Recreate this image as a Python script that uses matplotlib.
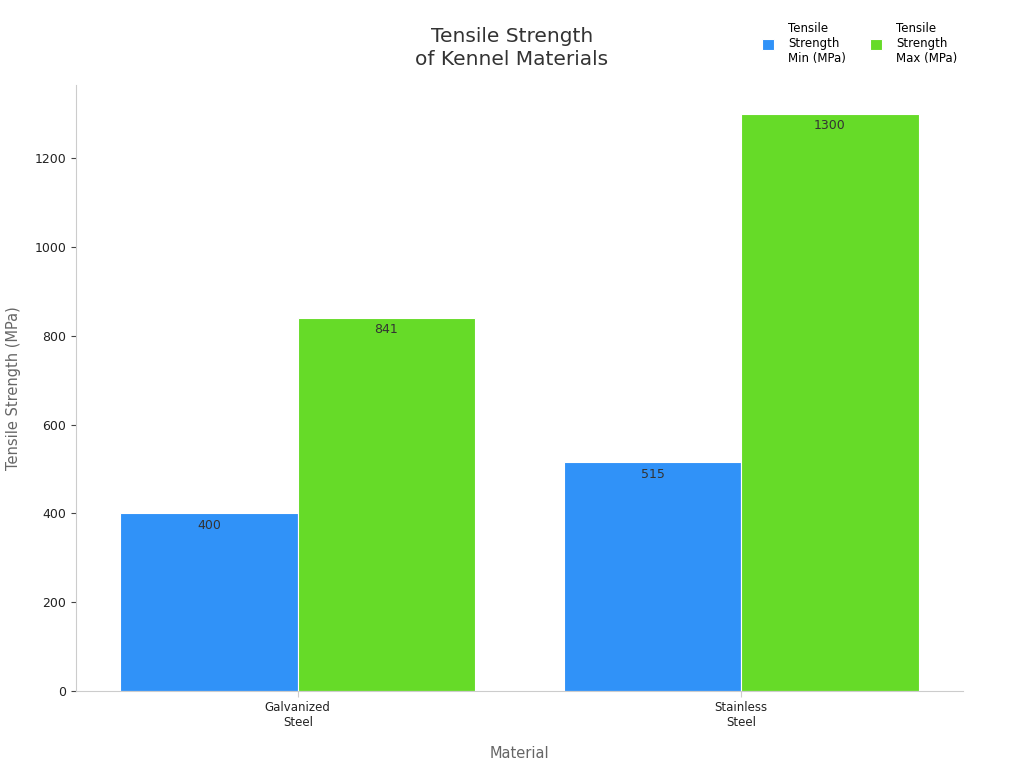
import numpy as np
import matplotlib.pyplot as plt

materials = ["Galvanized\nSteel", "Stainless\nSteel"]
ts_min = [400, 515]
ts_max = [841, 1300]
series_labels = ["Tensile\nStrength\nMin (MPa)", "Tensile\nStrength\nMax (MPa)"]
colors = ["#3092F8", "#66DB28"]

fig = plt.figure(figsize=(10.24, 7.68), dpi=100)
ax = fig.add_axes([76/1024, 1-691/768, (963-76)/1024, (691-85)/768])

x = np.arange(len(materials))
w = 0.4
for vals, off, c, lab in [(ts_min, -w/2, colors[0], series_labels[0]),
                          (ts_max, w/2, colors[1], series_labels[1])]:
    bars = ax.bar(x + off, vals, w, color=c, edgecolor="white", linewidth=0.8, label=lab)
    for b, v in zip(bars, vals):
        ax.text(b.get_x() + b.get_width()/2, v - 12, f"{v}", ha="center", va="top",
                fontsize=9, color="#333333")

ax.set_xlim(-0.5, 1.5)
ax.set_ylim(0, 1365)
ax.set_yticks(range(0, 1201, 200))
ax.set_xticks(x)
ax.set_xticklabels(materials, fontsize=8.5, color="#222222")
ax.tick_params(axis="y", labelsize=9, colors="#222222")
ax.tick_params(axis="x", length=4, color="#cccccc")
ax.tick_params(axis="y", color="#444444")
for s in ["top", "right"]:
    ax.spines[s].set_visible(False)
ax.spines["left"].set_color("#cccccc")
ax.spines["bottom"].set_color("#cccccc")
ax.set_xlabel("Material", fontsize=10.5, color="#666666", labelpad=12)
ax.set_ylabel("Tensile Strength (MPa)", fontsize=10.5, color="#666666", labelpad=10)

fig.text(0.5, 1-48/768, "Tensile Strength\nof Kennel Materials", ha="center", va="center",
         fontsize=14.5, color="#333333", linespacing=1.3)
fig.legend(loc="upper right", bbox_to_anchor=(0.945, 0.985), ncol=2, frameon=False,
           fontsize=8.5, handlelength=1, handleheight=1, handletextpad=1.2,
           columnspacing=2.0)

fig.savefig("out.png", dpi=100)
